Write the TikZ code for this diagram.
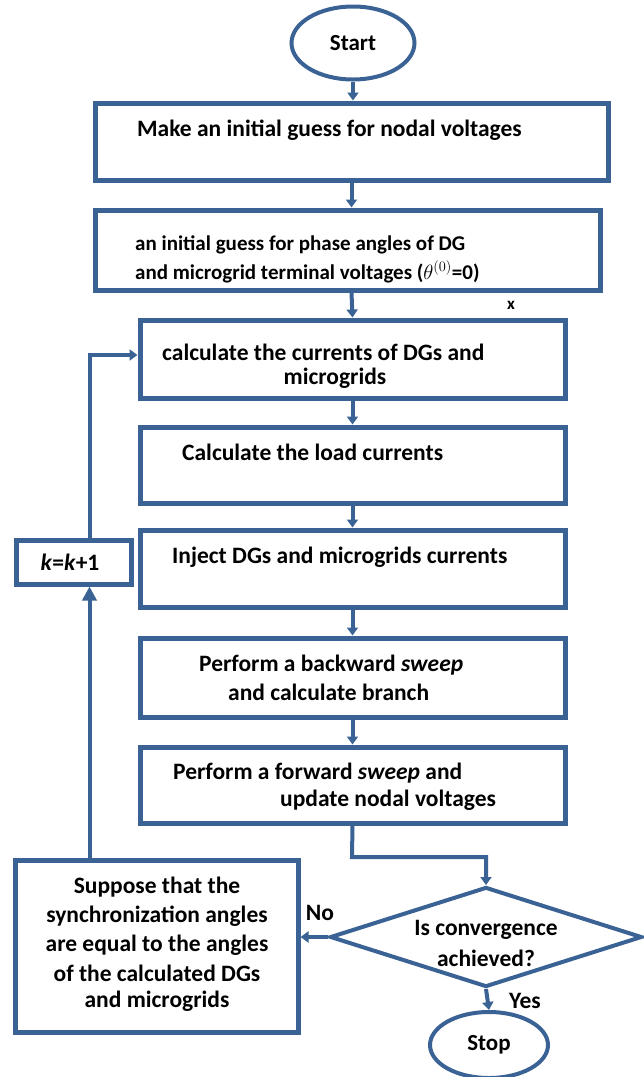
\documentclass[tikz,border=0pt]{standalone}
\usepackage{fontspec}
\setmainfont{Carlito}
\usetikzlibrary{arrows.meta,shapes.geometric}
\definecolor{fb}{RGB}{58,98,148}
\begin{document}
\begin{tikzpicture}[x=1pt,y=-1pt,
  box/.style={draw=fb,line width=5pt,inner sep=0pt,rectangle},
  term/.style={ellipse,draw=fb,line width=4pt,inner sep=0pt,font=\bfseries\fontsize{23}{25}\selectfont},
  txt/.style={font=\bfseries\fontsize{23.5}{26}\selectfont,inner sep=0pt,text=black},
  txtb/.style={font=\bfseries\fontsize{21}{24}\selectfont,inner sep=0pt,text=black},
  conn/.style={draw=fb,line width=4pt},
  arr/.style={-{Triangle[width=11pt,length=8pt]}},
  bigarr/.style={-{Triangle[width=14pt,length=14pt]}}
]
\useasboundingbox (0,0) rectangle (643,1077);
% terminals
\node[term,minimum width=123pt,minimum height=73pt] (start) at (353,43) {Start};
\node[term,minimum width=118pt,minimum height=66pt] (stop) at (489,1045) {Stop};
% process boxes
\node[box,minimum width=513pt,minimum height=77pt] (b1) at (351.5,141.5) {};
\node[box,minimum width=505pt,minimum height=80pt] (b2) at (347.5,250) {};
\node[box,minimum width=425pt,minimum height=78pt] (b3) at (352.5,359) {};
\node[box,minimum width=425pt,minimum height=76pt] (b4) at (352.5,465) {};
\node[box,minimum width=425pt,minimum height=77pt] (b5) at (352.5,568.5) {};
\node[box,minimum width=425pt,minimum height=79pt] (b6) at (352.5,677.5) {};
\node[box,minimum width=425pt,minimum height=76pt] (b7) at (352.5,785) {};
\node[box,minimum width=115pt,minimum height=44pt] (kb) at (73.5,562) {};
\node[box,minimum width=283pt,minimum height=172pt] (sup) at (156.5,946) {};
\node[diamond,draw=fb,line width=4pt,inner sep=0pt,minimum width=312pt,minimum height=100pt] (dia) at (486,937) {};
% texts
\node[txt,anchor=west] (t1) at (137,130) {Make an initial guess for nodal voltages};
\node[txtb,anchor=west] (t2a) at (135,245) {an initial guess for phase angles of DG};
\node[txtb,anchor=west] (t2b) at (135,272) {and microgrid terminal voltages ($\theta^{(0)}$=0)};
\node[font=\bfseries\fontsize{17}{18}\selectfont,inner sep=0pt] (xm) at (511,305) {x};
\node[txt,anchor=west] (t3a) at (162,352) {calculate the currents of DGs and};
\node[txt] (t3b) at (335,378) {microgrids};
\node[txt,anchor=west] (t4) at (182,452) {Calculate the load currents};
\node[txt,anchor=west] (t5) at (172,557) {Inject DGs and microgrids currents};
\node[txt,anchor=west] (t6a) at (199,665) {Perform a backward \textit{sweep}};
\node[txt,anchor=west] (t6b) at (228,692) {and calculate branch};
\node[txt,anchor=west] (t7a) at (173,773) {Perform a forward \textit{sweep} and};
\node[txt,anchor=west] (t7b) at (280,800) {update nodal voltages};
\node[txt] (tk) at (70,562) {\textit{k}=\textit{k}+1};
\node[txt] (d1) at (486,930) {Is convergence};
\node[txt] (d2) at (486,958) {achieved?};
\node[txt] (s1) at (157,887) {Suppose that the};
\node[txt] (s2) at (157,916) {synchronization angles};
\node[txt] (s3) at (157,945) {are equal to the angles};
\node[txt] (s4) at (157,973) {of the calculated DGs};
\node[txt] (s5) at (157,1001) {and microgrids};
\node[txt] (no) at (320,913) {No};
\node[txt] (yes) at (525,1001) {Yes};
% connectors
\coordinate (jn) at (352,857);
\draw[conn,arr] (start.south) -- (start.south |- b1.north);
\draw[conn,arr] (b1.south) -- (b1.south |- b2.north);
\draw[conn,arr] (b1.south |- b2.south) -- (b3.north);
\draw[conn,arr] (b3.south) -- (b4.north);
\draw[conn,arr] (b4.south) -- (b5.north);
\draw[conn,arr] (b5.south) -- (b6.north);
\draw[conn,arr] (b6.south) -- (b7.north);
\draw[conn,arr] (b7.south) -- (jn) -| (dia.north);
\draw[conn,arr] (dia.west) -- (dia.west -| sup.east);
\draw[conn,arr] (dia.south) -- (stop.north);
\draw[conn,bigarr] ([xshift=16pt]kb.south |- sup.north) -- ([xshift=16pt]kb.south);
\draw[conn,arr] ([xshift=16pt]kb.north) |- ([yshift=4pt]b3.west);
\end{tikzpicture}
\end{document}
